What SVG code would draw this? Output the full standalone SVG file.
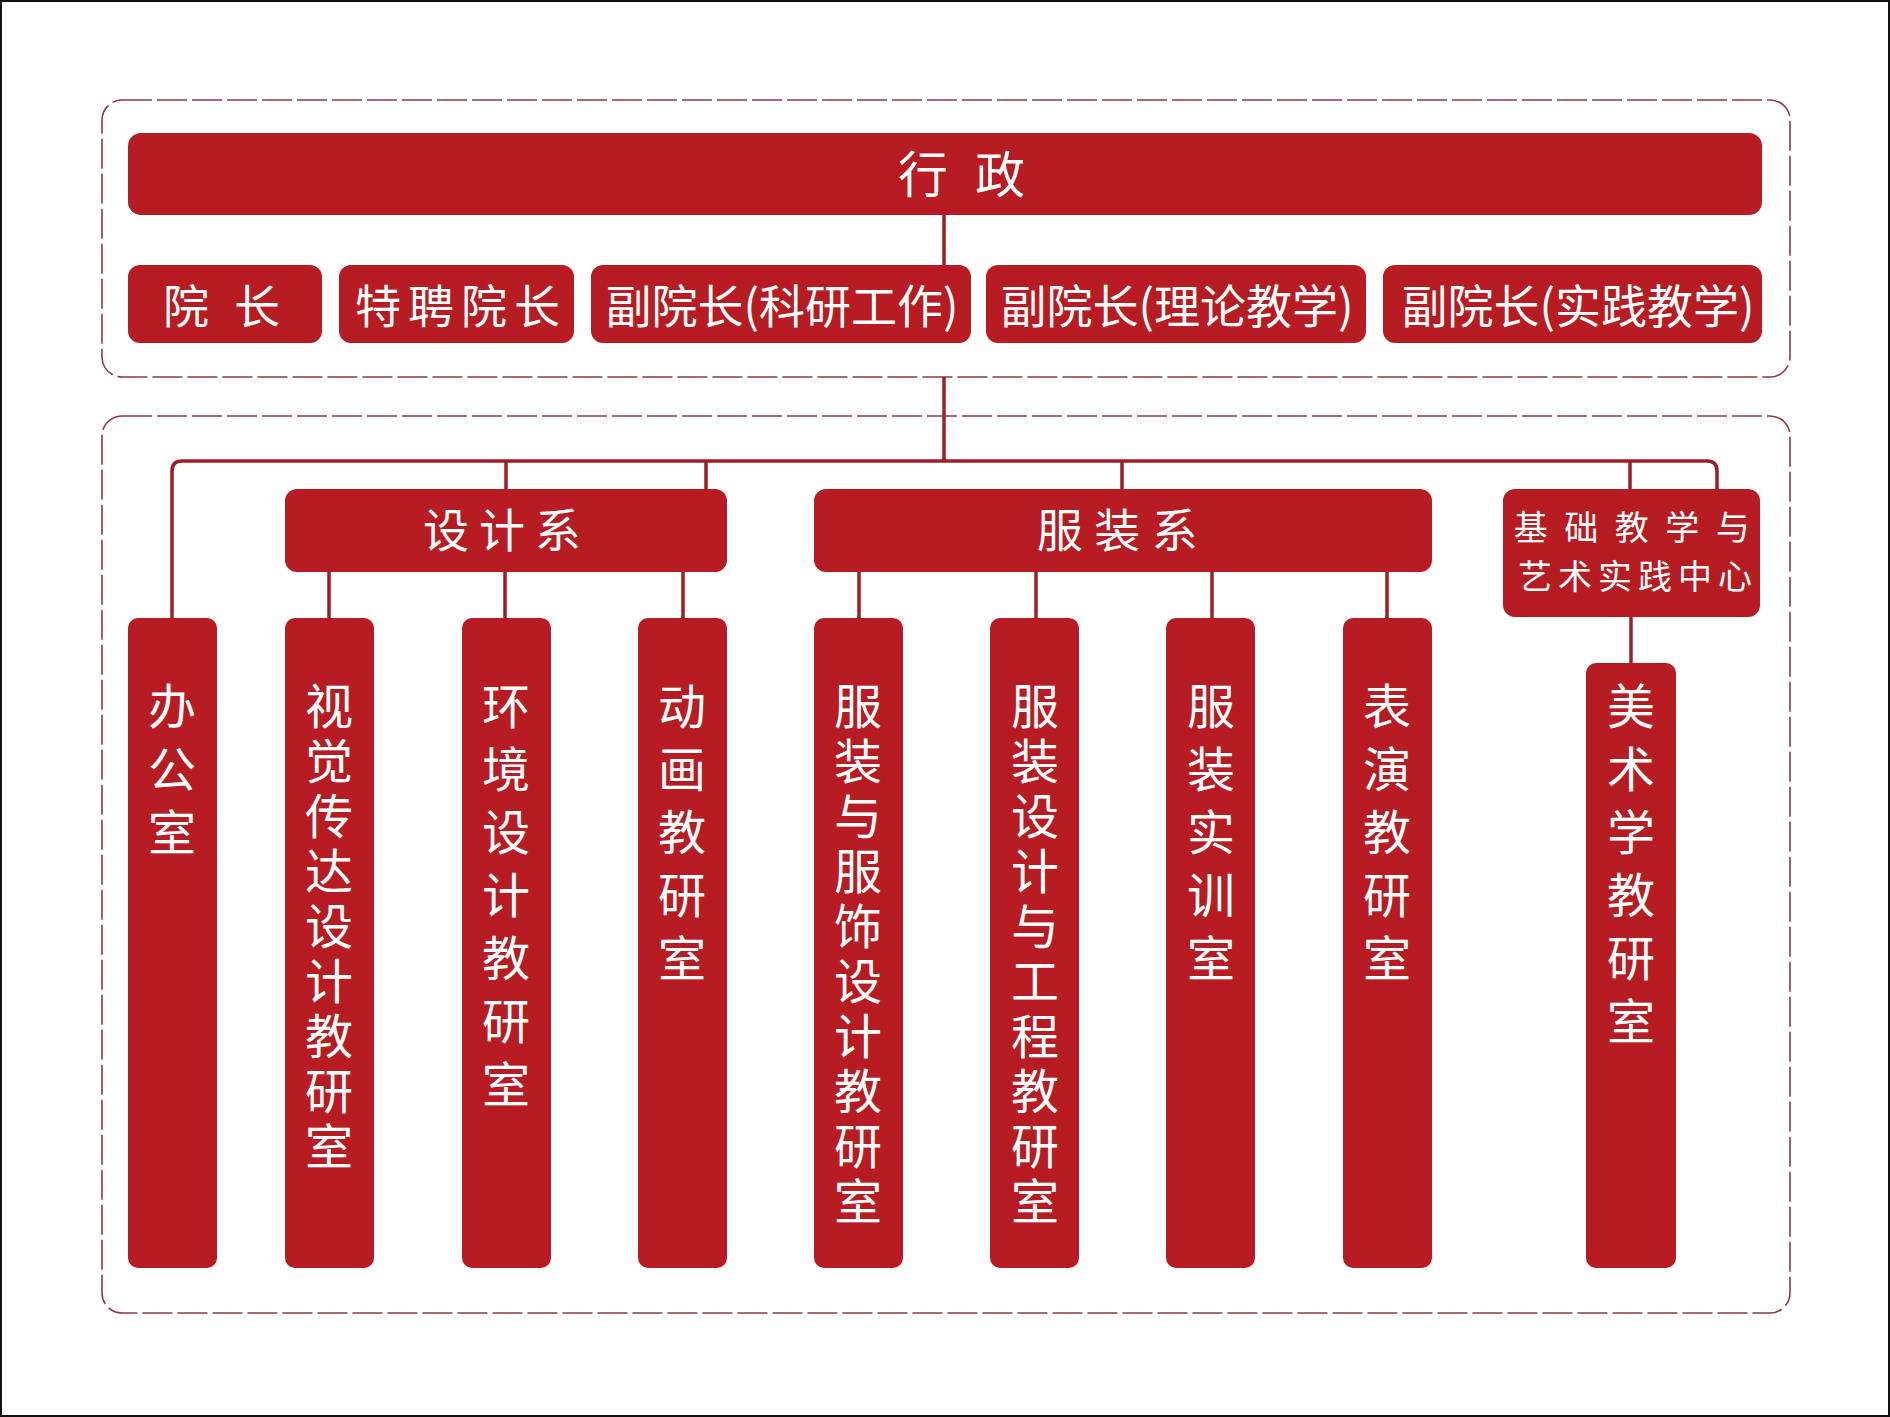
<svg xmlns="http://www.w3.org/2000/svg" width="1890" height="1417" viewBox="0 0 1890 1417">
<style>
.frame{fill:#fff;stroke:#111;stroke-width:2}
.dash{fill:none;stroke:#8E3A40;stroke-width:1.6;stroke-dasharray:30 5}
.box{fill:#B71C22}
.ln{fill:none;stroke:#9C1F27;stroke-width:3.5}
text{fill:#fff;font-family:"Noto Sans CJK SC","Noto Sans CJK TC",sans-serif}
.t50{font-size:50px}
.t46{font-size:46px}
.t48{font-size:48px}
.t34{font-size:34px}
</style>
<rect class="frame" x="1" y="1" width="1888" height="1415"/>
<rect class="dash" x="102" y="100" width="1688" height="277" rx="20"/>
<rect class="dash" x="102" y="416" width="1688" height="897" rx="20"/>

<g id="connectors">
<path class="ln" d="M944 215V265"/>
<path class="ln" d="M944 377V461"/>
<path class="ln" d="M172 618V471Q172 461 182 461H1707Q1717 461 1717 471V490"/>
<path class="ln" d="M506 461V489M706 461V489M1122 461V489M1630 461V489"/>
<path class="ln" d="M329 572V618M505 572V618M683 572V618"/>
<path class="ln" d="M859 572V618M1036 572V618M1212 572V618M1387 572V618"/>
<path class="ln" d="M1631 617V663"/>
</g>

<g id="xingzheng">
<rect class="box" x="128" y="133" width="1634" height="82" rx="13"/>
<text class="t50" x="898 950 975" y="193">行 政</text>
</g>
<g id="yuanzhang">
<rect class="box" x="128" y="265" width="194" height="78" rx="12"/>
<text class="t46" x="163 210 234" y="323">院 长</text>
</g>
<g id="tepin">
<rect class="box" x="339" y="265" width="235" height="78" rx="12"/>
<text class="t46" x="461" y="323" text-anchor="middle" letter-spacing="7">特聘院长</text>
</g>
<g id="fu-keyan">
<rect class="box" x="591" y="265" width="380" height="78" rx="12"/>
<text class="t46" x="782" y="323" text-anchor="middle">副院长(科研工作)</text>
</g>
<g id="fu-lilun">
<rect class="box" x="986" y="265" width="380" height="78" rx="12"/>
<text class="t46" x="1177" y="323" text-anchor="middle">副院长(理论教学)</text>
</g>
<g id="fu-shijian">
<rect class="box" x="1383" y="265" width="379" height="78" rx="12"/>
<text class="t46" x="1578" y="323" text-anchor="middle">副院长(实践教学)</text>
</g>

<g id="shejixi">
<rect class="box" x="285" y="489" width="442" height="83" rx="12"/>
<text class="t46" x="507" y="547" text-anchor="middle" letter-spacing="10">设计系</text>
</g>
<g id="fuzhuangxi">
<rect class="box" x="814" y="489" width="618" height="83" rx="12"/>
<text class="t46" x="1123" y="547" text-anchor="middle" letter-spacing="11.5">服装系</text>
</g>
<g id="jichu">
<rect class="box" x="1503" y="489" width="257" height="128" rx="12"/>
<text class="t34" x="1640" y="540" text-anchor="middle" letter-spacing="16.5">基础教学与</text>
<text class="t34" x="1638" y="589" text-anchor="middle" letter-spacing="6">艺术实践中心</text>
</g>

<g id="bangongshi">
<rect class="box" x="128" y="618" width="89" height="650" rx="10"/>
<text class="t48" x="172 172 172" y="724 787 850" text-anchor="middle">办公室</text>
</g>
<g id="shijue">
<rect class="box" x="285" y="618" width="89" height="650" rx="10"/>
<text class="t48" x="329 329 329 329 329 329 329 329 329" y="724 779 834 889 944 999 1054 1109 1164" text-anchor="middle">视觉传达设计教研室</text>
</g>
<g id="huanjing">
<rect class="box" x="462" y="618" width="89" height="650" rx="10"/>
<text class="t48" x="506 506 506 506 506 506 506" y="724 787 850 913 976 1039 1102" text-anchor="middle">环境设计教研室</text>
</g>
<g id="donghua">
<rect class="box" x="638" y="618" width="89" height="650" rx="10"/>
<text class="t48" x="682 682 682 682 682" y="724 787 850 913 976" text-anchor="middle">动画教研室</text>
</g>
<g id="fuzhuangfushi">
<rect class="box" x="814" y="618" width="89" height="650" rx="10"/>
<text class="t48" x="858 858 858 858 858 858 858 858 858 858" y="724 779 834 889 944 999 1054 1109 1164 1219" text-anchor="middle">服装与服饰设计教研室</text>
</g>
<g id="fuzhuanggongcheng">
<rect class="box" x="990" y="618" width="89" height="650" rx="10"/>
<text class="t48" x="1035 1035 1035 1035 1035 1035 1035 1035 1035 1035" y="724 779 834 889 944 999 1054 1109 1164 1219" text-anchor="middle">服装设计与工程教研室</text>
</g>
<g id="shixun">
<rect class="box" x="1166" y="618" width="89" height="650" rx="10"/>
<text class="t48" x="1211 1211 1211 1211 1211" y="724 787 850 913 976" text-anchor="middle">服装实训室</text>
</g>
<g id="biaoyan">
<rect class="box" x="1343" y="618" width="89" height="650" rx="10"/>
<text class="t48" x="1387 1387 1387 1387 1387" y="724 787 850 913 976" text-anchor="middle">表演教研室</text>
</g>
<g id="meishu">
<rect class="box" x="1586" y="663" width="90" height="605" rx="10"/>
<text class="t48" x="1631 1631 1631 1631 1631 1631" y="724 787 850 913 976 1039" text-anchor="middle">美术学教研室</text>
</g>
</svg>
